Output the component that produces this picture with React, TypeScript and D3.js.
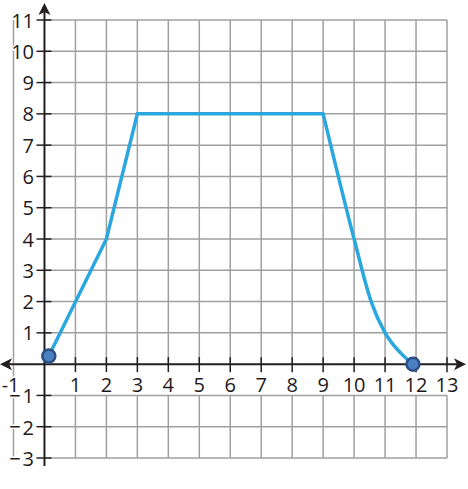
import * as d3 from "d3";

const xTicks = [-1, 1, 2, 3, 4, 5, 6, 7, 8, 9, 10, 11, 12, 13];
const yTicks = [-3, -2, -1, 1, 2, 3, 4, 5, 6, 7, 8, 9, 10, 11];
const gridX = [-1, 0, 1, 2, 3, 4, 5, 6, 7, 8, 9, 10, 11, 12, 13];
const gridY = [-3, -2, -1, 0, 1, 2, 3, 4, 5, 6, 7, 8, 9, 10, 11];

const lineX = [0.14, 2, 3, 9];
const lineY = [0.26, 4, 8, 8];
const curveX = [9, 10, 10.55, 11, 11.5, 11.9];
const curveY = [8, 4, 2, 1, 0.36, 0];
const dotX = [0.14, 11.9];
const dotY = [0.26, 0];

const W = 468;
const H = 489;

export default function App() {
  const x = d3.scaleLinear().domain([-1, 13]).range([13.5, 447]);
  const y = d3.scaleLinear().domain([-3, 11]).range([458, 20]);
  const lin = d3
    .line<number>()
    .x((_, i) => x(lineX[i]))
    .y((_, i) => y(lineY[i]));
  const cur = d3
    .line<number>()
    .x((_, i) => x(curveX[i]))
    .y((_, i) => y(curveY[i]))
    .curve(d3.curveMonotoneX);

  const axisColor = "#231f20";
  const gridColor = "#a0a0a0";
  const textColor = "#1f1a22";
  const x0 = x(0);
  const y0 = y(0);

  const labelStyle = {
    fontFamily: "'Open Sans', 'Noto Sans', sans-serif",
    fontSize: 20,
    fontWeight: 500,
    fill: textColor,
    stroke: "white",
    strokeWidth: 3,
    paintOrder: "stroke" as const,
  };

  return (
    <svg
      width={W}
      height={H}
      style={{ position: "absolute", left: 0, top: 0, background: "white" }}
    >
      <rect x={0} y={0} width={W} height={H} fill="white" />
      {/* vertical grid lines */}
      {gridX
        .filter((v) => v !== 0)
        .map((v) =>
          v === -1 ? (
            <line
              key={"gx" + v}
              x1={x(v)}
              x2={x(v)}
              y1={y(11)}
              y2={y(-3)}
              stroke={gridColor}
              strokeWidth={1.5}
            />
          ) : (
            <g key={"gx" + v}>
              <line
                x1={x(v)}
                x2={x(v)}
                y1={y(11)}
                y2={y(0)}
                stroke={gridColor}
                strokeWidth={1.5}
              />
              <line
                x1={x(v)}
                x2={x(v)}
                y1={y(-1)}
                y2={y(-3)}
                stroke={gridColor}
                strokeWidth={1.5}
              />
            </g>
          )
        )}
      {/* horizontal grid lines */}
      {gridY
        .filter((v) => v !== 0)
        .map((v) => (
          <line
            key={"gy" + v}
            x1={x(0)}
            x2={x(13)}
            y1={y(v)}
            y2={y(v)}
            stroke={gridColor}
            strokeWidth={1.5}
          />
        ))}
      {/* axes */}
      <line x1={3} x2={W - 6} y1={y0} y2={y0} stroke={axisColor} strokeWidth={2} />
      <line x1={x0} x2={x0} y1={10} y2={466} stroke={axisColor} strokeWidth={2} />
      {/* arrowheads */}
      <path
        d={`M${x0},3 L${x0 + 6},15 L${x0},12 L${x0 - 6},15 Z`}
        fill={axisColor}
      />
      <path
        d={`M${W - 2},${y0} L${W - 14},${y0 - 6} L${W - 11},${y0} L${W - 14},${y0 + 6} Z`}
        fill={axisColor}
      />
      <path
        d={`M0,${y0} L12,${y0 - 6} L9,${y0} L12,${y0 + 6} Z`}
        fill={axisColor}
      />
      {/* ticks */}
      {xTicks
        .filter((v) => v > 0)
        .map((v) => (
          <line
            key={"tx" + v}
            x1={x(v)}
            x2={x(v)}
            y1={y0 - 7}
            y2={y0 + 8}
            stroke={axisColor}
            strokeWidth={1.5}
          />
        ))}
      {yTicks.map((v) => (
        <line
          key={"ty" + v}
          x1={x0 - 8}
          x2={x0 + 7}
          y1={y(v)}
          y2={y(v)}
          stroke={axisColor}
          strokeWidth={1.5}
        />
      ))}
      {/* labels */}
      {xTicks.map((v) => (
        <text
          key={"lx" + v}
          x={v < 0 ? x(v) + 6 : x(v)}
          y={y0 + 20}
          dominantBaseline="central"
          textAnchor={v < 0 ? "end" : "middle"}
          style={labelStyle}
        >
          {v < 0 ? "-" + Math.abs(v) : String(v)}
        </text>
      ))}
      {yTicks.map((v) => (
        <text
          key={"ly" + v}
          x={34}
          y={y(v)}
          dominantBaseline="central"
          textAnchor="end"
          style={labelStyle}
        >
          {v < 0 ? (
            <>
              {"−"}
              <tspan dx={2}>{String(Math.abs(v))}</tspan>
            </>
          ) : (
            String(v)
          )}
        </text>
      ))}
      {/* data line */}
      <path
        d={lin(lineX) || ""}
        fill="none"
        stroke="#2aa7df"
        strokeWidth={3.5}
        strokeLinejoin="miter"
      />
      <path
        d={cur(curveX) || ""}
        fill="none"
        stroke="#2aa7df"
        strokeWidth={3.5}
        strokeLinecap="round"
      />
      {dotX.map((v, i) => (
        <circle
          key={"d" + i}
          cx={x(v)}
          cy={y(dotY[i])}
          r={6.5}
          fill="#4a7fc1"
          stroke="#2c4f86"
          strokeWidth={2.5}
        />
      ))}
    </svg>
  );
}
